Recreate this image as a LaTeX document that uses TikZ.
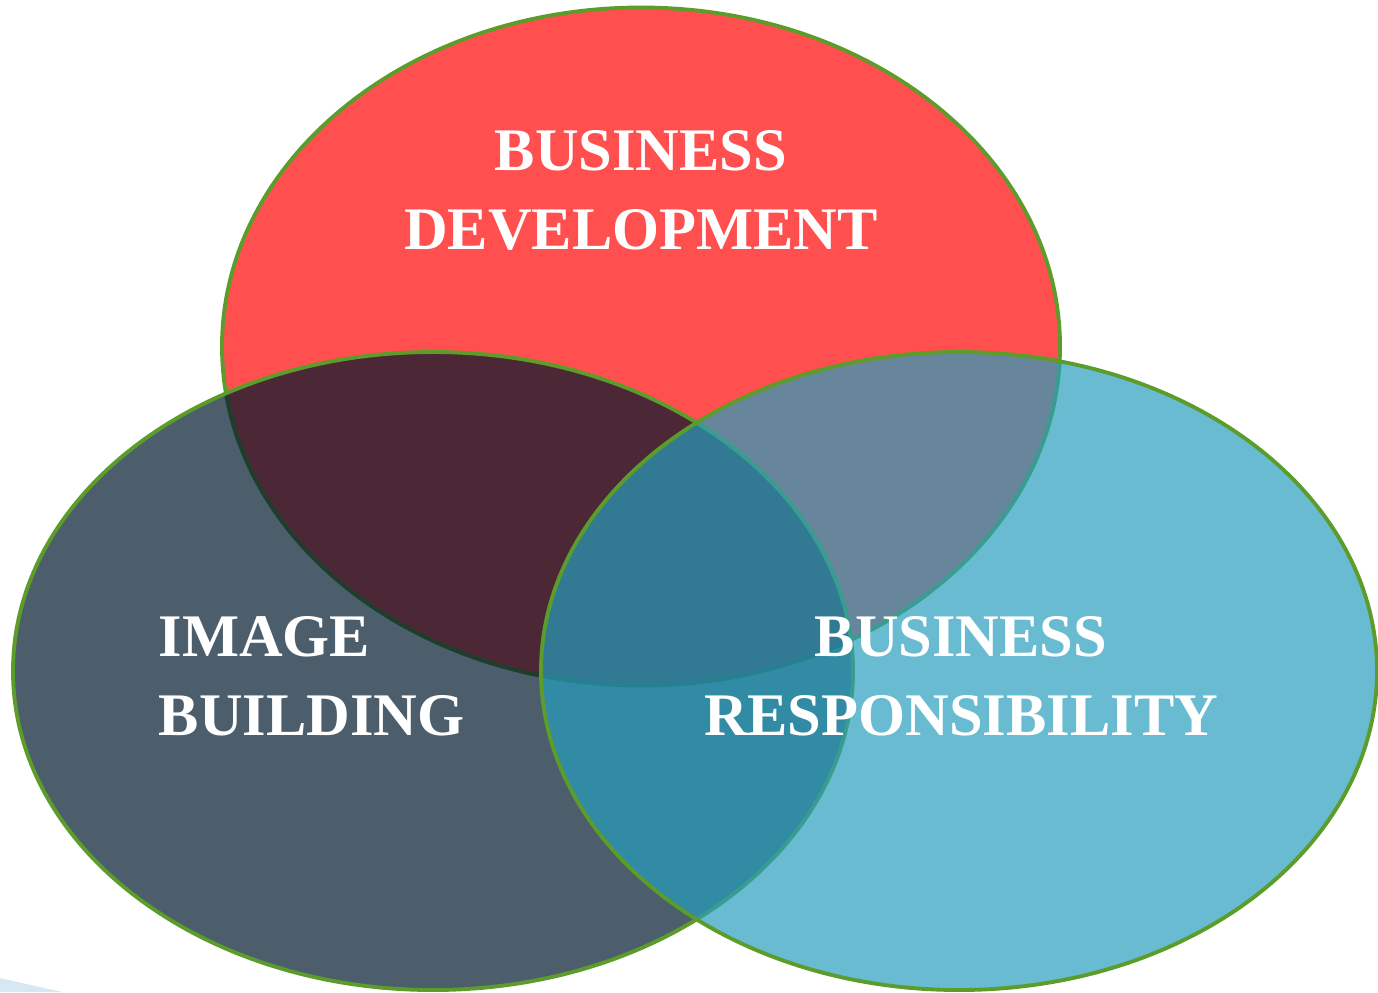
\documentclass[tikz,border=0pt]{standalone}
\usepackage{fontspec}
\setmainfont{Liberation Serif}
\usepackage{tikz}
\usetikzlibrary{shapes,positioning}
\definecolor{vennred}{RGB}{255,79,79}
\definecolor{venndark}{RGB}{0,24,44}
\definecolor{vennteal}{RGB}{40,158,188}
\definecolor{venngreen}{RGB}{92,156,42}
\definecolor{wedgeblue}{RGB}{214,233,242}
\tikzset{
        venn/.style = {draw=venngreen, ellipse, line width=1.1pt,
            inner sep=0pt},
        tag/.style = {text=white, inner sep=0pt,
            font=\fontsize{17.2}{22.5}\selectfont\bfseries},
    }

\begin{document}
\begin{tikzpicture}
    \useasboundingbox (0,0) rectangle (13.78,-9.92);
    \fill[wedgeblue] (0,-9.78) -- (0.62,-9.92) -- (0,-9.92) -- cycle;

    \node[venn, fill=vennred, minimum width=8.38cm, minimum height=6.78cm]
        (dev) at (6.41,-3.465) {};
    \node[venn, fill=venndark, fill opacity=0.7,
        minimum width=8.40cm, minimum height=6.38cm]
        (img) at (4.33,-6.71) {};
    \node[venn, fill=vennteal, fill opacity=0.7,
        minimum width=8.36cm, minimum height=6.38cm]
        (resp) at (9.59,-6.71) {};

    \node[tag, align=center] (devtext) at (6.41,-1.90) {BUSINESS\\DEVELOPMENT};
    \node[tag, align=left, anchor=west] (imgtext) at (1.58,-6.76) {IMAGE\\BUILDING};
    \node[tag, align=center] (resptext) at (9.61,-6.76) {BUSINESS\\RESPONSIBILITY};
\end{tikzpicture}
\end{document}
